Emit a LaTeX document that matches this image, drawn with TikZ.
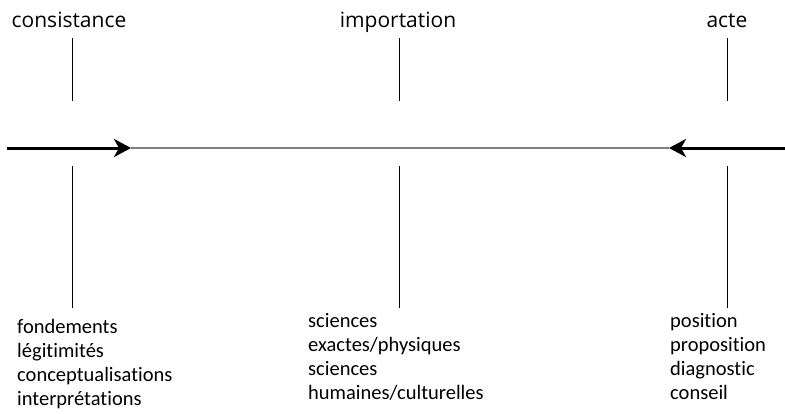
\documentclass[tikz,border=0pt]{standalone}
\usepackage{fontspec}
\setmainfont{Carlito}[Ligatures=NoCommon]
\newfontfamily\toplabelfont{Open Sans}
\usetikzlibrary{arrows.meta}

\tikzset{
	toplabel/.style={font=\toplabelfont\fontsize{21}{24}\selectfont, anchor=base, inner sep=0pt},
	itemlist/.style={font=\fontsize{20.5}{24}\selectfont, align=left, anchor=base west, inner sep=0pt},
	tickline/.style={line width=0.8pt},
	axisline/.style={line width=1.2pt, black!50},
	pusharrow/.style={line width=3pt, -{Stealth[length=17pt,width=18pt,inset=5pt]}}
}

\begin{document}
\begin{tikzpicture}[x=1pt,y=-1pt]
	\useasboundingbox (0,0) rectangle (785,413);
	% top labels
	\node [toplabel] (cons) at (69,27) {consistance};
	\node [toplabel] (impo) at (398,27) {importation};
	\node [toplabel] (acte) at (727,27) {acte};
	% ticks
	\coordinate (consA) at (72,38);   \coordinate (consB) at (72,101);
	\coordinate (impoA) at (399,38);  \coordinate (impoB) at (399,101);
	\coordinate (acteA) at (727,38);  \coordinate (acteB) at (727,101);
	\coordinate (consC) at (72,166);  \coordinate (consD) at (72,308);
	\coordinate (impoC) at (399,166); \coordinate (impoD) at (399,308);
	\coordinate (acteC) at (727,166); \coordinate (acteD) at (727,308);
	\draw [tickline] (consA) -- (consB) (impoA) -- (impoB) (acteA) -- (acteB);
	\draw [tickline] (consC) -- (consD) (impoC) -- (impoD) (acteC) -- (acteD);
	% axis
	\coordinate (west) at (7,148);
	\coordinate (tipL) at (131,148);
	\coordinate (tipR) at (669,148);
	\coordinate (east) at (785,148);
	\draw [axisline] (tipL) -- (tipR);
	\draw [pusharrow] (west) -- (tipL);
	\draw [pusharrow] (east) -- (tipR);
	% lists (base = last line)
	\node [itemlist] (consList) at (17,405) {fondements\\légitimités\\conceptualisations\\interprétations};
	\node [itemlist] (impoList) at (308,399) {sciences\\exactes/physiques\\sciences\\humaines/culturelles};
	\node [itemlist] (acteList) at (670,399) {position\\proposition\\diagnostic\\conseil};
\end{tikzpicture}
\end{document}
